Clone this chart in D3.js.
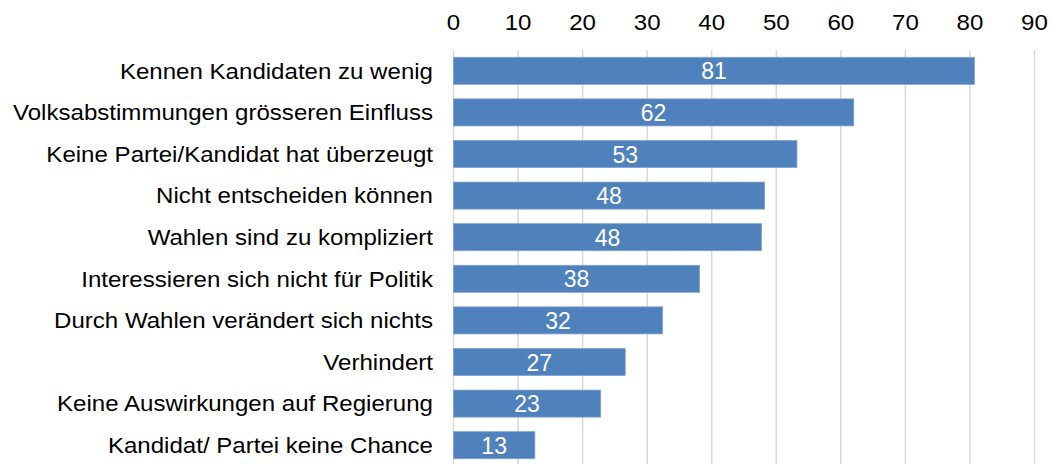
<!DOCTYPE html>
<html>
<head>
<meta charset="utf-8">
<script src="https://cdn.jsdelivr.net/npm/d3@7"></script>
<style>
    body { margin: 0; background: #fff; }
    svg { display: block; font-family: 'Liberation Sans', Arial, sans-serif; }
</style>
</head>
<body>
<svg id="chart" width="1053" height="464"></svg>
<script>
const categories = [
    'Kennen Kandidaten zu wenig',
    'Volksabstimmungen grösseren Einfluss',
    'Keine Partei/Kandidat hat überzeugt',
    'Nicht entscheiden können',
    'Wahlen sind zu kompliziert',
    'Interessieren sich nicht für Politik',
    'Durch Wahlen verändert sich nichts',
    'Verhindert',
    'Keine Auswirkungen auf Regierung',
    'Kandidat/ Partei keine Chance'
]
const values = [80.7, 62.0, 53.2, 48.2, 47.7, 38.1, 32.4, 26.6, 22.8, 12.6]
const ticks = [0, 10, 20, 30, 40, 50, 60, 70, 80, 90]

// the original text is a bit wider than Arial
const stretch = 1.12

const svg = d3.select('#chart')

const xScale = d3.scaleLinear()
    .domain([0, 90])
    .range([453.5, 1034.5])

const yScale = d3.scaleBand()
    .domain(categories)
    .range([50, 466])
    .paddingInner(0.35)
    .paddingOuter(0.175)

// gridlines
svg.append('g')
    .selectAll('line')
    .data(ticks)
    .enter().append('line')
        .attr('x1', d => xScale(d))
        .attr('x2', d => xScale(d))
        .attr('y1', 50)
        .attr('y2', 464)
        .style('stroke', '#d9d9d9')
        .style('stroke-width', 1.5)

// top axis labels
svg.append('g')
    .selectAll('text')
    .data(ticks)
    .enter().append('text')
        .attr('transform', d => `translate(${xScale(d)},30) scale(${stretch},1)`)
        .attr('text-anchor', 'middle')
        .style('font-size', '21.5px')
        .style('fill', '#000')
        .text(d => d)

// bars
const bars = svg.append('g')
    .selectAll('g')
    .data(categories)
    .enter().append('g')

bars.append('rect')
    .attr('x', xScale(0))
    .attr('y', d => yScale(d))
    .attr('width', (d, i) => xScale(values[i]) - xScale(0))
    .attr('height', yScale.bandwidth())
    .style('fill', '#4f81bd')
    .style('stroke', '#7fa3d0')
    .style('stroke-width', 0.8)

bars.append('text')
    .attr('x', (d, i) => (xScale(0) + xScale(values[i])) / 2)
    .attr('y', d => yScale(d) + yScale.bandwidth() / 2 + 8.5)
    .attr('text-anchor', 'middle')
    .style('font-size', '23px')
    .style('fill', '#fff')
    .text((d, i) => d3.format('.0f')(values[i]))

// category labels
svg.append('g')
    .selectAll('text')
    .data(categories)
    .enter().append('text')
        .attr('transform', d => `translate(433,${yScale(d) + yScale.bandwidth() / 2 + 7.7}) scale(${stretch},1)`)
        .attr('text-anchor', 'end')
        .style('font-size', '21.5px')
        .style('fill', '#000')
        .text(d => d)
</script>
</body>
</html>
